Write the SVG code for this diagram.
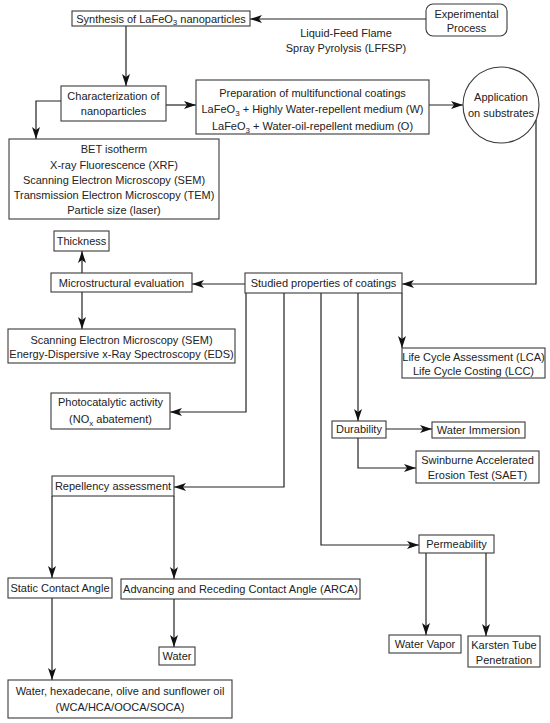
<svg xmlns="http://www.w3.org/2000/svg" width="550" height="723" viewBox="0 0 550 723">
<defs>
<style>
.box{fill:#fff;stroke:#3a3a3a;stroke-width:1.1}
.ln{fill:none;stroke:#222;stroke-width:1.2;marker-end:url(#ah)}
text{font-family:"Liberation Sans",Arial,sans-serif;font-size:11px;fill:#222;text-anchor:middle}
.sub{font-size:8px}
</style>
<marker id="ah" viewBox="0 0 12 8" markerWidth="12" markerHeight="8" refX="12" refY="4" orient="auto" markerUnits="userSpaceOnUse">
<path d="M0,0 L12,4 L0,8 L3,4 z" fill="#111"/>
</marker>
</defs>
<rect width="550" height="723" fill="#fff"/>
<g id="connectors">
<path class="ln" d="M426,19 H250"/>
<path class="ln" d="M126,26 V86"/>
<path class="ln" d="M61,101 H36 V139"/>
<path class="ln" d="M166,105 H196"/>
<path class="ln" d="M429,105 H463"/>
<path class="ln" d="M536,120 V284 H402"/>
<path class="ln" d="M245,284 H192"/>
<path class="ln" d="M82,273 V251"/>
<path class="ln" d="M82,292 V329"/>
<path class="ln" d="M402,293 V348"/>
<path class="ln" d="M246,293 V412 H170"/>
<path class="ln" d="M284,293 V487 H174"/>
<path class="ln" d="M321,293 V545 H419"/>
<path class="ln" d="M358,293 V421"/>
<path class="ln" d="M386,429 H432"/>
<path class="ln" d="M358,438 V468 H416"/>
<path class="ln" d="M52,496 V578"/>
<path class="ln" d="M174,496 V579"/>
<path class="ln" d="M174,599 V647"/>
<path class="ln" d="M52,598 V680"/>
<path class="ln" d="M426,553 V635"/>
<path class="ln" d="M486,553 V636"/>
<text x="346" y="37">Liquid-Feed Flame</text>
<text x="346" y="52">Spray Pyrolysis (LFFSP)</text>
</g>
<g id="experimental">
<rect class="box" x="426" y="4" width="81" height="32" rx="7"/>
<text x="466.5" y="18">Experimental</text>
<text x="466.5" y="32">Process</text>
</g>
<g id="synthesis">
<rect class="box" x="72" y="11" width="178" height="15"/>
<text x="161" y="22.5">Synthesis of LaFeO<tspan class="sub" dy="2.5">3</tspan><tspan dy="-2.5"> nanoparticles</tspan></text>
</g>
<g id="characterization">
<rect class="box" x="61" y="86" width="105" height="35"/>
<text x="113.5" y="100">Characterization of</text>
<text x="113.5" y="115">nanoparticles</text>
</g>
<g id="preparation">
<rect class="box" x="196" y="80" width="233" height="54"/>
<text x="312.5" y="97">Preparation of multifunctional coatings</text>
<text x="312.5" y="113">LaFeO<tspan class="sub" dy="2.5">3</tspan><tspan dy="-2.5"> + Highly Water-repellent medium (W)</tspan></text>
<text x="312.5" y="130">LaFeO<tspan class="sub" dy="2.5">3</tspan><tspan dy="-2.5"> + Water-oil-repellent medium (O)</tspan></text>
</g>
<g id="application">
<circle class="box" cx="501" cy="105" r="38"/>
<text x="501" y="101">Application</text>
<text x="501" y="117">on substrates</text>
</g>
<g id="bet">
<rect class="box" x="9" y="139" width="210" height="80"/>
<text x="114" y="153">BET isotherm</text>
<text x="114" y="169">X-ray Fluorescence (XRF)</text>
<text x="114" y="184">Scanning Electron Microscopy (SEM)</text>
<text x="114" y="199">Transmission Electron Microscopy (TEM)</text>
<text x="114" y="214">Particle size (laser)</text>
</g>
<g id="thickness">
<rect class="box" x="54" y="231" width="55" height="20"/>
<text x="81.5" y="245">Thickness</text>
</g>
<g id="microstructural">
<rect class="box" x="51" y="273" width="141" height="19"/>
<text x="121.5" y="286.5">Microstructural evaluation</text>
</g>
<g id="studied">
<rect class="box" x="245" y="273" width="157" height="20"/>
<text x="323.5" y="287">Studied properties of coatings</text>
</g>
<g id="sem-eds">
<rect class="box" x="8" y="329" width="227" height="34"/>
<text x="121.5" y="344">Scanning Electron Microscopy (SEM)</text>
<text x="121.5" y="358">Energy-Dispersive x-Ray Spectroscopy (EDS)</text>
</g>
<g id="lca">
<rect class="box" x="402" y="348" width="143" height="30"/>
<text x="473.5" y="361">Life Cycle Assessment (LCA)</text>
<text x="473.5" y="375">Life Cycle Costing (LCC)</text>
</g>
<g id="photocatalytic">
<rect class="box" x="51" y="393" width="119" height="36"/>
<text x="110.5" y="406">Photocatalytic activity</text>
<text x="110.5" y="423">(NO<tspan class="sub" dy="2.5">x</tspan><tspan dy="-2.5"> abatement)</tspan></text>
</g>
<g id="durability">
<rect class="box" x="332" y="421" width="54" height="17"/>
<text x="359" y="433">Durability</text>
</g>
<g id="water-immersion">
<rect class="box" x="432" y="422" width="93" height="16"/>
<text x="478.5" y="434">Water Immersion</text>
</g>
<g id="saet">
<rect class="box" x="416" y="451" width="123" height="32"/>
<text x="477.5" y="464">Swinburne Accelerated</text>
<text x="477.5" y="479">Erosion Test (SAET)</text>
</g>
<g id="repellency">
<rect class="box" x="52" y="476" width="122" height="20"/>
<text x="113" y="490">Repellency assessment</text>
</g>
<g id="permeability">
<rect class="box" x="419" y="535" width="75" height="18"/>
<text x="456.5" y="548">Permeability</text>
</g>
<g id="static">
<rect class="box" x="8" y="578" width="104" height="20"/>
<text x="60" y="592">Static Contact Angle</text>
</g>
<g id="arca">
<rect class="box" x="121" y="579" width="239" height="20"/>
<text x="240.5" y="593">Advancing and Receding Contact Angle (ARCA)</text>
</g>
<g id="water">
<rect class="box" x="159" y="647" width="36" height="18"/>
<text x="177" y="660">Water</text>
</g>
<g id="wca">
<rect class="box" x="8" y="680" width="224" height="38"/>
<text x="120" y="695">Water, hexadecane, olive and sunflower oil</text>
<text x="120" y="711">(WCA/HCA/OOCA/SOCA)</text>
</g>
<g id="water-vapor">
<rect class="box" x="389" y="635" width="72" height="18"/>
<text x="425" y="648">Water Vapor</text>
</g>
<g id="karsten">
<rect class="box" x="468" y="636" width="72" height="31"/>
<text x="504" y="649">Karsten Tube</text>
<text x="504" y="664">Penetration</text>
</g>
</svg>
